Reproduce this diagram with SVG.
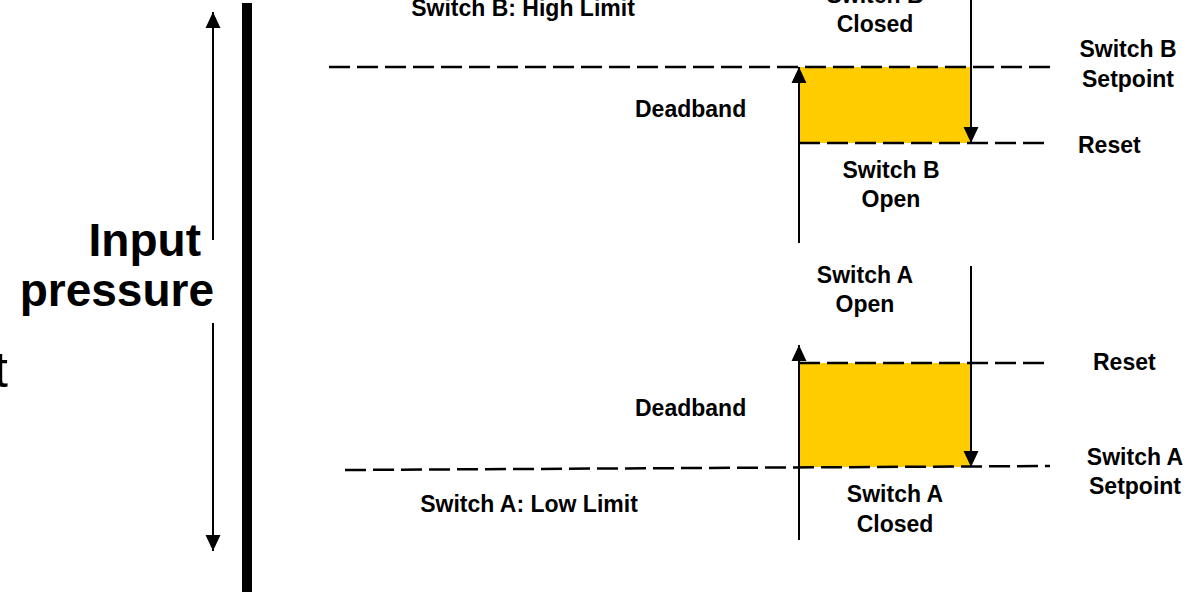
<svg xmlns="http://www.w3.org/2000/svg" width="1200" height="592" viewBox="0 0 1200 592">
<style>
.lbl{font-family:"Liberation Sans",Arial,sans-serif;font-weight:bold;font-size:23px;fill:#000}
.big{font-family:"Liberation Sans",Arial,sans-serif;font-weight:bold;font-size:46px;fill:#000}
.dash{stroke:#000;stroke-width:2.5;stroke-dasharray:21 7;fill:none}
.arr{stroke:#000;stroke-width:2;fill:none;marker-end:url(#ah)}
.band{fill:#FFCC00}
</style>
<defs>
<marker id="ah" markerUnits="userSpaceOnUse" markerWidth="16" markerHeight="16" viewBox="0 0 15 14" refX="15" refY="7" orient="auto">
<path d="M0,0 L15,7 L0,14 z" fill="#000"/>
</marker>
</defs>
<rect width="1200" height="592" fill="#fff"/>
<g id="axis">
<rect x="242" y="3" width="10" height="592" fill="#000"/>
<line class="arr" x1="213" y1="240" x2="213" y2="12"/>
<line class="arr" x1="213" y1="323" x2="213" y2="551"/>
<text class="big" x="201" y="256" text-anchor="end">Input</text>
<text class="big" x="214" y="306" text-anchor="end">pressure</text>
<text x="8" y="387" text-anchor="end" style="font-family:'Liberation Sans',Arial,sans-serif;font-size:50px;fill:#000">t</text>
</g>
<g id="switchB">
<rect class="band" x="799" y="67" width="172" height="76"/>
<text class="lbl" x="523" y="16" text-anchor="middle">Switch B: High Limit</text>
<text class="lbl" x="875" y="3" text-anchor="middle">Switch B</text>
<text class="lbl" x="875" y="32" text-anchor="middle">Closed</text>
<text class="lbl" x="1128" y="57" text-anchor="middle">Switch B</text>
<text class="lbl" x="1128" y="87" text-anchor="middle">Setpoint</text>
<text class="lbl" x="1078" y="153">Reset</text>
<text class="lbl" x="635" y="117">Deadband</text>
<text class="lbl" x="891" y="178" text-anchor="middle">Switch B</text>
<text class="lbl" x="891" y="207" text-anchor="middle">Open</text>
</g>
<g id="switchA">
<rect class="band" x="799" y="363" width="172" height="104"/>
<text class="lbl" x="865" y="283" text-anchor="middle">Switch A</text>
<text class="lbl" x="865" y="312" text-anchor="middle">Open</text>
<text class="lbl" x="1093" y="370">Reset</text>
<text class="lbl" x="635" y="416">Deadband</text>
<text class="lbl" x="1135" y="465" text-anchor="middle">Switch A</text>
<text class="lbl" x="1135" y="494" text-anchor="middle">Setpoint</text>
<text class="lbl" x="529" y="512" text-anchor="middle">Switch A: Low Limit</text>
<text class="lbl" x="895" y="502" text-anchor="middle">Switch A</text>
<text class="lbl" x="895" y="532" text-anchor="middle">Closed</text>
</g>
<g id="connectors">
<line class="dash" x1="329" y1="67" x2="1050" y2="67"/>
<line class="dash" x1="799" y1="143" x2="1047" y2="143"/>
<line class="dash" x1="799" y1="363" x2="1045" y2="363"/>
<line class="dash" x1="345" y1="470" x2="1050" y2="466"/>
<line class="arr" x1="799" y1="243" x2="799" y2="67"/>
<line class="arr" x1="971" y1="0" x2="971" y2="143"/>
<line class="arr" x1="799" y1="540" x2="799" y2="345"/>
<line class="arr" x1="971" y1="266" x2="971" y2="467"/>
</g>
</svg>
